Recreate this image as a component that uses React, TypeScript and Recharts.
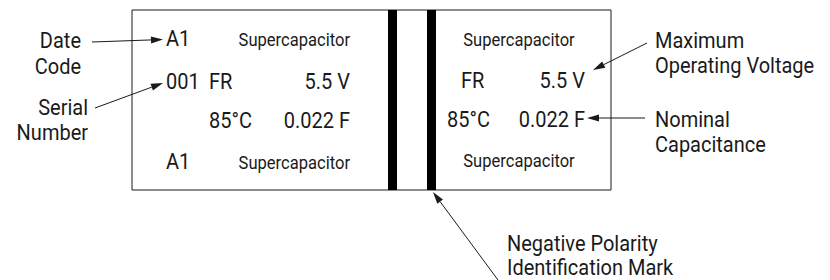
import { ReferenceArea, ReferenceLine, Scatter, ScatterChart, XAxis, YAxis } from "recharts";

const W = 830;
const H = 280;
const INK = "#1a1a1a";

// text printed on the sleeve, left half then right half
const markText = [
  "A1", "Supercapacitor", "001", "FR", "5.5 V", "85°C", "0.022 F", "A1", "Supercapacitor",
  "Supercapacitor", "FR", "5.5 V", "85°C", "0.022 F", "Supercapacitor",
];
const markX = [166, 350, 166, 209, 350, 209, 350, 166, 350, 519, 461, 585, 447, 585, 519];
const markY = [46, 46, 89, 89, 89, 128, 128, 169, 169, 46, 88, 88, 127, 127, 167];
const markAnchor = [
  "start", "end", "start", "start", "end", "start", "end", "start", "end",
  "middle", "start", "end", "start", "end", "middle",
];

// callout captions around the part
const calloutText = [
  "Date", "Code", "Serial", "Number",
  "Maximum", "Operating Voltage", "Nominal", "Capacitance",
  "Negative Polarity", "Identification Mark",
];
const calloutX = [81, 81, 88, 88, 655, 655, 655, 655, 507, 507];
const calloutY = [48, 74, 115, 140, 48, 73, 127, 152, 251, 275];
const calloutAnchor = ["end", "end", "end", "end", "start", "start", "start", "start", "start", "start"];

// leader arrows: tail -> head
const arrows = [
  { from: [92, 42], to: [163, 39.5] },
  { from: [95, 108], to: [163, 83] },
  { from: [647, 43], to: [593, 70] },
  { from: [645, 118], to: [587, 118] },
  { from: [498, 280], to: [433, 192] },
];

const marks = markText.map((t, i) => ({ x: markX[i], y: markY[i], label: t, anchor: markAnchor[i], small: t === "Supercapacitor" }));
const callouts = calloutText.map((t, i) => ({ x: calloutX[i], y: calloutY[i], label: t, anchor: calloutAnchor[i], small: false }));

function TextShape(props: any) {
  const p = props.payload;
  const size = p.small ? 18 : 21.5;
  const sx = p.small ? 0.92 : 0.93;
  return (
    <text
      transform={`translate(${props.cx},${props.cy}) scale(${sx},1)`}
      textAnchor={p.anchor}
      fontSize={size}
      fill={INK}
      fontFamily="Roboto"
    >
      {p.label}
    </text>
  );
}

function Arrow(props: any) {
  const { x1, y1, x2, y2 } = props;
  const a = Math.atan2(y2 - y1, x2 - x1);
  const len = 12;
  const hw = 3.5;
  const bx = x2 - len * Math.cos(a);
  const by = y2 - len * Math.sin(a);
  const px = -Math.sin(a) * hw;
  const py = Math.cos(a) * hw;
  return (
    <g>
      <line x1={x1} y1={y1} x2={bx} y2={by} stroke={INK} strokeWidth={1} />
      <polygon points={`${x2},${y2} ${bx + px},${by + py} ${bx - px},${by - py}`} fill={INK} />
    </g>
  );
}

export default function App() {
  return (
    <div style={{ position: "fixed", left: 0, top: 0, width: W, height: H, background: "#fff" }}>
      <ScatterChart width={W} height={H} margin={{ top: 0, right: 0, bottom: 0, left: 0 }}>
        <XAxis type="number" dataKey="x" domain={[0, W]} hide />
        <YAxis type="number" dataKey="y" domain={[0, H]} reversed hide />
        <ReferenceArea x1={132} x2={611} y1={10} y2={190} fill="#fff" fillOpacity={1} stroke={INK} strokeWidth={1} ifOverflow="visible" />
        <ReferenceArea x1={388} x2={397} y1={10} y2={190} fill="#000" fillOpacity={1} ifOverflow="visible" />
        <ReferenceArea x1={427} x2={436} y1={10} y2={190} fill="#000" fillOpacity={1} ifOverflow="visible" />
        {arrows.map((a, i) => (
          <ReferenceLine
            key={i}
            segment={[{ x: a.from[0], y: a.from[1] }, { x: a.to[0], y: a.to[1] }]}
            ifOverflow="visible"
            shape={Arrow}
          />
        ))}
        <Scatter data={marks} shape={TextShape} isAnimationActive={false} />
        <Scatter data={callouts} shape={TextShape} isAnimationActive={false} />
      </ScatterChart>
    </div>
  );
}
